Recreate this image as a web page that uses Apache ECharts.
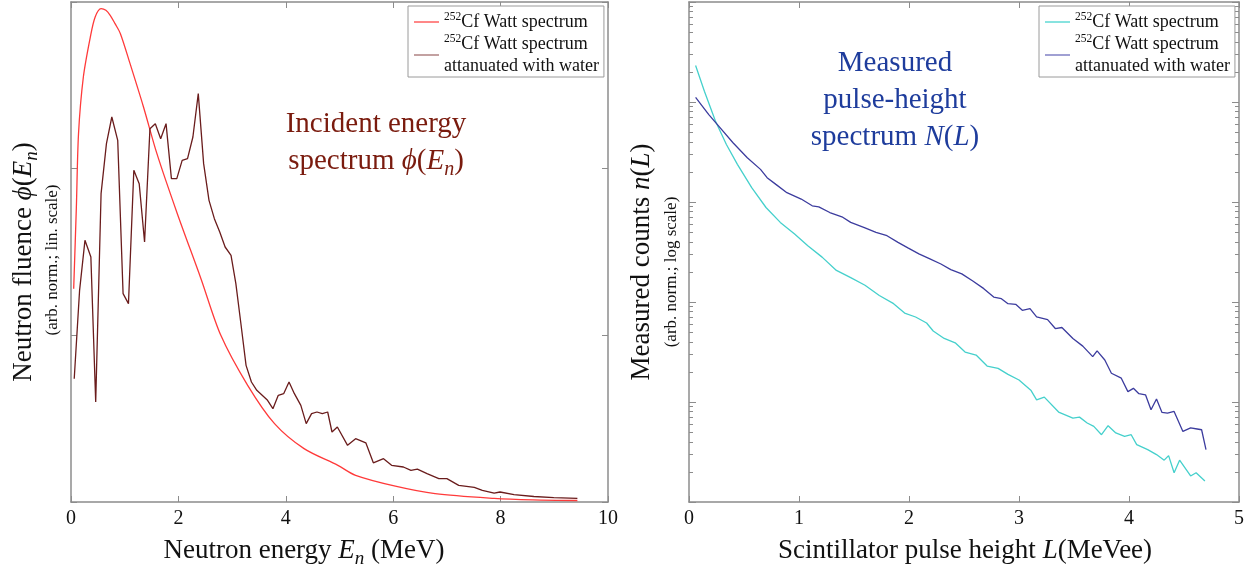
<!DOCTYPE html>
<html><head><meta charset="utf-8">
<script src="https://cdn.jsdelivr.net/npm/echarts@6/dist/echarts.min.js"></script>
<style>html,body{margin:0;padding:0;background:#fff}#c{width:1248px;height:573px}</style>
</head><body><div id="c"></div>
<script>
// ---- Left panel: incident energy spectrum (linear scale, arb. units) ----
const wattE   = [0.05,0.10,0.14,0.23,0.36,0.45,0.56,0.65,0.73,0.82,0.92,1.10,1.35,1.60,1.98,2.42,2.79,3.29,3.79,4.34,4.97,5.30,6.04,6.78,7.88,8.60,9.43];
const wattPhi = [1.28,1.77,2.21,2.55,2.79,2.91,2.96,2.95,2.92,2.87,2.81,2.63,2.37,2.09,1.73,1.34,1.00,0.70,0.47,0.32,0.22,0.16,0.095,0.05,0.022,0.013,0.009];

const attE   = [0.06,0.16,0.26,0.37,0.46,0.56,0.66,0.76,0.87,0.97,1.07,1.17,1.27,1.37,1.47,1.57,1.67,1.77,1.87,1.97,2.07,2.17,2.27,2.37,2.47,2.57,2.67,2.77,2.87,2.98,3.07,3.16,3.26,3.36,3.46,3.56,3.66,3.76,3.86,3.96,4.06,4.16,4.28,4.38,4.48,4.58,4.68,4.78,4.86,4.96,5.15,5.30,5.49,5.63,5.82,5.97,6.19,6.33,6.45,6.63,6.85,7.00,7.22,7.51,7.66,7.88,7.99,8.25,8.62,8.99,9.43];
const attPhi = [0.74,1.27,1.57,1.47,0.60,1.85,2.15,2.31,2.17,1.25,1.19,1.99,1.91,1.56,2.24,2.27,2.18,2.27,1.94,1.94,2.05,2.06,2.19,2.45,2.03,1.81,1.70,1.62,1.53,1.48,1.31,1.08,0.82,0.72,0.67,0.64,0.61,0.56,0.64,0.65,0.72,0.65,0.58,0.47,0.53,0.54,0.53,0.54,0.42,0.45,0.34,0.38,0.355,0.235,0.26,0.22,0.21,0.19,0.197,0.17,0.14,0.14,0.10,0.088,0.07,0.053,0.06,0.044,0.033,0.026,0.022];

// ---- Right panel: measured pulse-height spectrum (log scale, arb. units) ----
const measL = [0.06,0.14,0.24,0.34,0.44,0.57,0.70,0.83,0.96,1.08,1.21,1.34,1.47,1.60,1.73,1.86,1.96,2.06,2.16,2.22,2.32,2.42,2.51,2.61,2.71,2.81,2.90,3.00,3.11,3.16,3.23,3.36,3.49,3.55,3.62,3.68,3.75,3.81,3.88,3.96,4.02,4.07,4.17,4.25,4.32,4.36,4.41,4.46,4.56,4.61,4.69];
const measN = [23200,12800,6460,3760,2380,1390,881,625,479,366,281,207,175,147,116,96.2,77.6,70.8,61.7,51.3,43.2,39.1,31.6,29.5,22.9,21.7,18.9,16.6,13.0,10.5,11.2,7.93,6.90,7.06,6.17,5.70,4.71,5.79,4.90,4.54,4.71,3.75,3.34,2.98,2.62,2.91,1.96,2.62,1.82,1.96,1.62];

const attL = [0.06,0.18,0.27,0.40,0.53,0.65,0.71,0.79,0.89,1.02,1.12,1.18,1.28,1.39,1.47,1.60,1.70,1.80,1.90,1.99,2.09,2.19,2.29,2.38,2.48,2.58,2.68,2.77,2.84,2.90,2.97,3.03,3.10,3.16,3.26,3.33,3.39,3.49,3.58,3.67,3.71,3.78,3.84,3.93,3.99,4.04,4.09,4.15,4.20,4.25,4.30,4.35,4.41,4.49,4.56,4.62,4.66,4.70];
const attN = [11100,7480,5730,3910,2770,2120,1750,1500,1240,1070,916,895,785,711,625,550,498,460,395,348,303,270,240,211,191,162,136,112,108,96.2,94.8,82.6,85.9,71.0,66.7,54.3,55.6,43.2,36.2,28.4,32.5,26.3,19.4,17.3,12.7,13.7,12.1,11.8,8.36,10.7,7.87,7.74,8.04,5.08,5.50,5.37,5.28,3.34];

const leftXTicks = {min:0, max:10, interval:2};
const rightXTicks = {min:0, max:5, interval:1};
const logMajors = [1,10,100,1000,10000,100000];
const logMinors = [];
for (const d of [1,10,100,1000,10000]) for (let k=2;k<=9;k++) logMinors.push(k*d);

const F = 'Liberation Serif';
const G = '#8c8c8c';
const chart = echarts.init(document.getElementById('c'));

function xAx(grid, t, pos, labels) {
  return { type:'value', gridIndex:grid, position:pos, min:t.min, max:t.max, interval:t.interval,
    axisLine:{show:true, onZero:false, lineStyle:{color:G, width:1.5}},
    axisTick:{show:true, inside:true, length:6, lineStyle:{color:G, width:1}},
    axisLabel:{show:labels, margin:7, fontFamily:F, fontSize:20, color:'#111',
      showMinLabel:true, showMaxLabel:true},
    splitLine:{show:false} };
}
function yLin(grid, pos) {
  return { type:'value', gridIndex:grid, position:pos, min:0, max:3, interval:1,
    axisLine:{show:true, onZero:false, lineStyle:{color:G, width:1.5}},
    axisTick:{show:true, inside:true, length:6, lineStyle:{color:G, width:1}},
    axisLabel:{show:false}, splitLine:{show:false} };
}
function yLog(grid, pos, vals, len, line) {
  return { type:'log', logBase:10, gridIndex:grid, position:pos, min:1, max:100000,
    axisLine:{show:line, onZero:false, lineStyle:{color:G, width:1.5}},
    axisTick:{show:true, inside:true, length:len, customValues:vals, lineStyle:{color:G, width:1}},
    axisLabel:{show:false}, splitLine:{show:false} };
}
const pairs = (xs, ys) => xs.map((x,i)=>[x, ys[i]]);

const supRich = {
  t:{fontFamily:F, fontSize:18, lineHeight:22, color:'#111'},
  sup:{fontFamily:F, fontSize:11.5, lineHeight:12, verticalAlign:'top', color:'#111'}
};
function legendFmt(name) {
  if (name.endsWith('Att')) return '{sup|252}{t|Cf Watt spectrum}\n{t|attanuated with water}';
  return '{sup|252}{t|Cf Watt spectrum}';
}
function mkLegend(left, names) {
  return { left:left, top:6, orient:'vertical', data:names, selectedMode:false,
    formatter:legendFmt, icon:'rect', itemWidth:25, itemHeight:1.6, itemGap:2,
    padding:[5,5,2,6], borderColor:'#9a9a9a', borderWidth:1, backgroundColor:'#fff',
    textStyle:{fontFamily:F, fontSize:18, color:'#111', rich:supRich} };
}

const nameRich = (size, color) => ({
  a:{fontFamily:F, fontSize:size, fill:color, color:color, lineHeight:size+8},
  i:{fontFamily:F, fontSize:size, fontStyle:'italic', fill:color, color:color, lineHeight:size+8},
  s:{fontFamily:F, fontSize:Math.round(size*0.7), fontStyle:'italic', fill:color, color:color, verticalAlign:'bottom', lineHeight:Math.round(size*0.8)}
});
function txt(x, y, text, rich, rot, fill) {
  return { type:'text', x:x, y:y, rotation:rot||0, silent:true,
    style:{ text:text, rich:rich, fill:fill||'#111', align:'center', verticalAlign:'middle' } };
}

const redTitle = '#7a1b0e', blueTitle = '#1e3c9c';
const option = {
  animation:false,
  backgroundColor:'#fff',
  grid:[
    {left:71, right:640, top:2, bottom:71},
    {left:689, right:9, top:2, bottom:71}
  ],
  xAxis:[ xAx(0,leftXTicks,'bottom',true), xAx(0,leftXTicks,'top',false),
          xAx(1,rightXTicks,'bottom',true), xAx(1,rightXTicks,'top',false) ],
  yAxis:[ yLin(0,'left'), yLin(0,'right'),
          yLog(1,'left',logMajors,7,true), yLog(1,'left',logMinors,4,false),
          yLog(1,'right',logMajors,7,true), yLog(1,'right',logMinors,4,false) ],
  legend:[ mkLegend(408,['watt','wattAtt']), mkLegend(1039,['meas','measAtt']) ],
  series:[
    {name:'watt', type:'line', xAxisIndex:0, yAxisIndex:0, data:pairs(wattE,wattPhi), symbol:'none', smooth:0.3,
      lineStyle:{color:'#ff3a3a', width:1.3}, itemStyle:{color:'#ff6a6a'}},
    {name:'wattAtt', type:'line', xAxisIndex:0, yAxisIndex:0, data:pairs(attE,attPhi), symbol:'none',
      lineStyle:{color:'#6a1c1c', width:1.3}, itemStyle:{color:'#b48a8a'}},
    {name:'meas', type:'line', xAxisIndex:2, yAxisIndex:2, data:pairs(measL,measN), symbol:'none',
      lineStyle:{color:'#45d0cc', width:1.3}, itemStyle:{color:'#6adcd8'}},
    {name:'measAtt', type:'line', xAxisIndex:2, yAxisIndex:2, data:pairs(attL,attN), symbol:'none',
      lineStyle:{color:'#3c3c9e', width:1.3}, itemStyle:{color:'#8888c8'}}
  ],
  graphic:[
    txt(304, 551, '{a|Neutron energy }{i|E}{s|n}{a| (MeV)}', nameRich(27,'#111')),
    txt(965, 551, '{a|Scintillator pulse height }{i|L}{a|(MeVee)}', nameRich(27,'#111')),
    txt(24, 262, '{a|Neutron fluence }{i|ϕ}{a|(}{i|E}{s|n}{a|)}', nameRich(27,'#111'), Math.PI/2),
    txt(53, 260, '{a|(arb. norm.; lin. scale)}', nameRich(17,'#111'), Math.PI/2),
    txt(642, 262, '{a|Measured counts }{i|n}{a|(}{i|L}{a|)}', nameRich(27,'#111'), Math.PI/2),
    txt(672, 272, '{a|(arb. norm.; log scale)}', nameRich(17,'#111'), Math.PI/2),
    txt(376, 143, '{a|Incident energy}\n{a|spectrum }{i|ϕ}{a|(}{i|E}{s|n}{a|)}', nameRich(29,redTitle), 0, redTitle),
    txt(895, 100, '{a|Measured}\n{a|pulse-height}\n{a|spectrum }{i|N}{a|(}{i|L}{a|)}', nameRich(29,blueTitle), 0, blueTitle)
  ]
};
chart.setOption(option);
</script></body></html>
